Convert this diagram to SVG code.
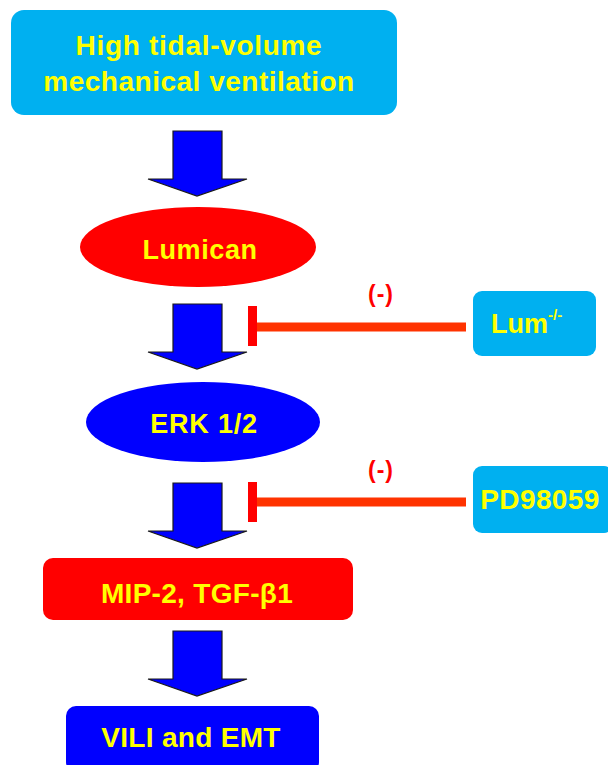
<svg xmlns="http://www.w3.org/2000/svg" width="608" height="765" viewBox="0 0 608 765">
<defs>
<style>
.t{font-family:"Liberation Sans",Arial,sans-serif;font-weight:bold;fill:#FFFF00;text-anchor:middle}
.cyan{fill:#00B0F0}
.arrow{fill:#0000FF;stroke:#1a1a1a;stroke-width:1.2;stroke-linejoin:miter}
.inh{stroke:#FF3300;stroke-width:9;fill:none}
.bar{fill:#FF0000}
.minus{font-family:"Liberation Sans",Arial,sans-serif;font-weight:bold;fill:#FF0000;font-size:23px;text-anchor:middle;letter-spacing:1px}
</style>
<path id="arr" class="arrow" d="M173 0 H222 V48 H247 L197 65 L148 48 H173 Z"/>
</defs>
<rect width="608" height="765" fill="#FFFFFF"/>
<g id="n-ventilation">
<rect class="cyan" x="11" y="10" width="386" height="105" rx="13"/>
<text class="t" x="199" y="55" font-size="28" letter-spacing="0.7">High tidal-volume</text>
<text class="t" x="199" y="91" font-size="28" letter-spacing="0.5">mechanical ventilation</text>
</g>
<g id="n-lumican">
<ellipse cx="198" cy="247" rx="118" ry="40" fill="#FF0000"/>
<text class="t" x="200" y="259" font-size="27" letter-spacing="0.6">Lumican</text>
</g>
<g id="n-erk">
<ellipse cx="203" cy="422" rx="117" ry="40" fill="#0000FF"/>
<text class="t" x="204" y="433" font-size="27" letter-spacing="0.8">ERK 1/2</text>
</g>
<g id="n-mip">
<rect x="43" y="558" width="310" height="62" rx="10" fill="#FF0000"/>
<text class="t" x="197" y="603" font-size="28" letter-spacing="0.3">MIP-2, TGF-β1</text>
</g>
<g id="n-vili">
<rect x="66" y="706" width="253" height="66" rx="10" fill="#0000FF"/>
<text class="t" x="191" y="747" font-size="28" letter-spacing="0.3">VILI and EMT</text>
</g>
<g id="n-lum">
<rect class="cyan" x="473" y="291" width="123" height="65" rx="9"/>
<text class="t" x="491" y="333" font-size="27" style="text-anchor:start">Lum<tspan font-size="15" dy="-13">-/-</tspan></text>
</g>
<g id="n-pd">
<rect class="cyan" x="473" y="466" width="140" height="67" rx="9"/>
<text class="t" x="540" y="509" font-size="28" letter-spacing="0.4">PD98059</text>
</g>
<g id="connectors">
<use href="#arr" y="131"/>
<use href="#arr" y="304"/>
<use href="#arr" y="483"/>
<use href="#arr" y="631"/>
<line class="inh" x1="256" y1="327" x2="466" y2="327"/>
<rect class="bar" x="248" y="306" width="9" height="40"/>
<text class="minus" x="381" y="302">(-)</text>
<line class="inh" x1="256" y1="502" x2="466" y2="502"/>
<rect class="bar" x="248" y="482" width="9" height="40"/>
<text class="minus" x="381" y="478">(-)</text>
</g>
</svg>
